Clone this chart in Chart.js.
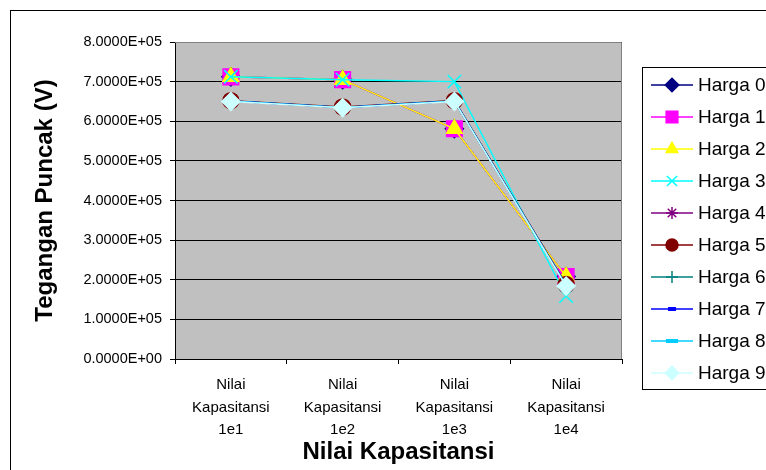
<!DOCTYPE html>
<html>
<head>
<meta charset="utf-8">
<title>Tegangan Puncak vs Nilai Kapasitansi</title>
<script src="https://cdn.jsdelivr.net/npm/chart.js@4/dist/chart.umd.min.js"></script>
<style>
    html, body { margin: 0; padding: 0; background: #ffffff; }
    #chart { display: block; }
</style>
</head>
<body>
<canvas id="chart" width="766" height="470"></canvas>
<script>
// data
const categories = [
    ['Nilai', 'Kapasitansi', '1e1'],
    ['Nilai', 'Kapasitansi', '1e2'],
    ['Nilai', 'Kapasitansi', '1e3'],
    ['Nilai', 'Kapasitansi', '1e4']
];
const seriesNames = ['Harga 0', 'Harga 1', 'Harga 2', 'Harga 3', 'Harga 4',
                     'Harga 5', 'Harga 6', 'Harga 7', 'Harga 8', 'Harga 9'];
const harga0 = [712000, 705000, 581000, 208000];
const harga1 = [712000, 705000, 581000, 208000];
const harga2 = [712000, 705000, 581000, 208000];
const harga3 = [712000, 705000, 700000, 159000];
const harga4 = [651000, 635000, 651000, 186000];
const harga5 = [652000, 636000, 652000, 188000];
const harga6 = [651000, 635000, 651000, 186000];
const harga7 = [651000, 635000, 651000, 186000];
const harga8 = [651000, 635000, 651000, 186000];
const harga9 = [650000, 634000, 650000, 184000];
const seriesValues = [harga0, harga1, harga2, harga3, harga4,
                      harga5, harga6, harga7, harga8, harga9];
const yMin = 0;
const yMax = 800000;
const yStep = 100000;

const FONT = "'Liberation Sans', Arial, sans-serif";

// small bar markers for Harga 7 and Harga 8
function dashMarker(color, w, h) {
    const c = document.createElement('canvas');
    c.width = w;
    c.height = h;
    const g = c.getContext('2d');
    g.fillStyle = color;
    g.fillRect(0, 0, w, h);
    return c;
}

const seriesStyles = [
    { color: '#000080', point: 'rectRot', radius: 9 },
    { color: '#FF00FF', point: 'rect', radius: 11 },
    { color: '#FFFF00', point: 'triangle', radius: 9 },
    { color: '#00FFFF', point: 'crossRot', radius: 9.5 },
    { color: '#800080', point: 'star', radius: 8 },
    { color: '#800000', point: 'circle', radius: 8 },
    { color: '#008080', point: 'cross', radius: 8 },
    { color: '#0000FF', point: dashMarker('#0000FF', 8, 4), radius: 5 },
    { color: '#00CCFF', point: dashMarker('#00CCFF', 12, 4), radius: 6 },
    { color: '#CCFFFF', point: 'rectRot', radius: 9 }
];

// format like Excel: 8.0000E+05
function sci(v) {
    if (v === 0) return '0.0000E+00';
    const exp = Math.floor(Math.log10(Math.abs(v)) + 1e-9);
    const m = v / Math.pow(10, exp);
    return m.toFixed(4) + 'E' + (exp < 0 ? '-' : '+') + String(Math.abs(exp)).padStart(2, '0');
}

const datasets = seriesNames.map((name, i) => ({
    label: name,
    data: seriesValues[i],
    borderColor: seriesStyles[i].color,
    backgroundColor: seriesStyles[i].color,
    pointBackgroundColor: seriesStyles[i].color,
    pointBorderColor: seriesStyles[i].color,
    pointStyle: seriesStyles[i].point,
    pointRadius: seriesStyles[i].radius,
    pointBorderWidth: 1.5,
    borderWidth: 1.5,
    tension: 0,
    order: seriesNames.length - 1 - i
}));

// gray plot area and outer frame
const plotFrame = {
    id: 'plotFrame',
    beforeDraw(chart) {
        const { ctx, chartArea: a } = chart;
        ctx.save();
        ctx.fillStyle = '#ffffff';
        ctx.fillRect(0, 0, chart.width, chart.height);
        ctx.strokeStyle = '#000000';
        ctx.lineWidth = 1;
        ctx.strokeRect(10.5, 10.5, 1000, 1000);
        ctx.fillStyle = '#C0C0C0';
        ctx.fillRect(a.left, a.top, a.right - a.left, a.bottom - a.top);
        ctx.restore();
    },
    beforeDatasetsDraw(chart) {
        const { ctx, chartArea: a } = chart;
        ctx.save();
        ctx.strokeStyle = '#808080';
        ctx.lineWidth = 1;
        ctx.beginPath();
        ctx.moveTo(a.left, a.top + 0.5);
        ctx.lineTo(a.right - 0.5, a.top + 0.5);
        ctx.lineTo(a.right - 0.5, a.bottom);
        ctx.stroke();
        ctx.restore();
    }
};

// Excel style legend: line sample with marker
const excelLegend = {
    id: 'excelLegend',
    afterDraw(chart) {
        const ctx = chart.ctx;
        const boxX = 642.5, boxY = 67.5, boxH = 322;
        const rowStart = 85, rowGap = 32;
        ctx.save();
        ctx.strokeStyle = '#000000';
        ctx.lineWidth = 1;
        ctx.strokeRect(boxX, boxY, 300, boxH);
        chart.data.datasets.forEach((ds, i) => {
            const y = rowStart + i * rowGap;
            ctx.strokeStyle = ds.borderColor;
            ctx.lineWidth = 1.5;
            ctx.beginPath();
            ctx.moveTo(651, y);
            ctx.lineTo(693, y);
            ctx.stroke();
            ctx.fillStyle = ds.pointBackgroundColor;
            ctx.strokeStyle = ds.pointBorderColor;
            ctx.lineWidth = 1.5;
            Chart.helpers.drawPoint(ctx, {
                pointStyle: ds.pointStyle,
                radius: ds.pointRadius * 0.75,
                rotation: 0,
                borderWidth: 1.5
            }, 672, y);
            ctx.fillStyle = '#000000';
            ctx.font = '19px ' + FONT;
            ctx.textAlign = 'left';
            ctx.textBaseline = 'middle';
            ctx.fillText(ds.label, 698, y + 1);
        });
        ctx.restore();
    }
};

const ctx = document.getElementById('chart').getContext('2d');
const chart = new Chart(ctx, {
    type: 'line',
    data: {
        labels: categories,
        datasets: datasets
    },
    options: {
        responsive: false,
        animation: false,
        layout: {
            padding: { left: 0, top: 42, right: 144, bottom: 0 }
        },
        plugins: {
            legend: { display: false },
            tooltip: { enabled: false }
        },
        scales: {
            x: {
                offset: true,
                afterFit: scale => { scale.height = 111; },
                grid: {
                    offset: true,
                    drawOnChartArea: false,
                    drawTicks: true,
                    tickLength: 5,
                    color: '#000000'
                },
                border: { color: '#000000', width: 1 },
                ticks: {
                    color: '#000000',
                    padding: 10,
                    maxRotation: 0,
                    autoSkip: false,
                    font: { family: FONT, size: 15, lineHeight: 1.5 }
                },
                title: {
                    display: true,
                    text: 'Nilai Kapasitansi',
                    color: '#000000',
                    padding: { top: 0, bottom: 3 },
                    font: { family: FONT, size: 24, weight: 'bold', lineHeight: 1.2 }
                }
            },
            y: {
                min: yMin,
                max: yMax,
                afterFit: scale => { scale.width = 175; },
                grid: {
                    color: '#000000',
                    lineWidth: 1,
                    drawTicks: true,
                    tickLength: 5
                },
                border: { color: '#000000', width: 1 },
                ticks: {
                    stepSize: yStep,
                    color: '#000000',
                    padding: 8,
                    font: { family: FONT, size: 14.5 },
                    callback: v => sci(v)
                },
                title: {
                    display: true,
                    text: 'Tegangan Puncak (V)',
                    color: '#000000',
                    padding: { top: 31, bottom: 0 },
                    font: { family: FONT, size: 24, weight: 'bold', lineHeight: 1.2 }
                }
            }
        }
    },
    plugins: [plotFrame, excelLegend]
});
</script>
</body>
</html>
